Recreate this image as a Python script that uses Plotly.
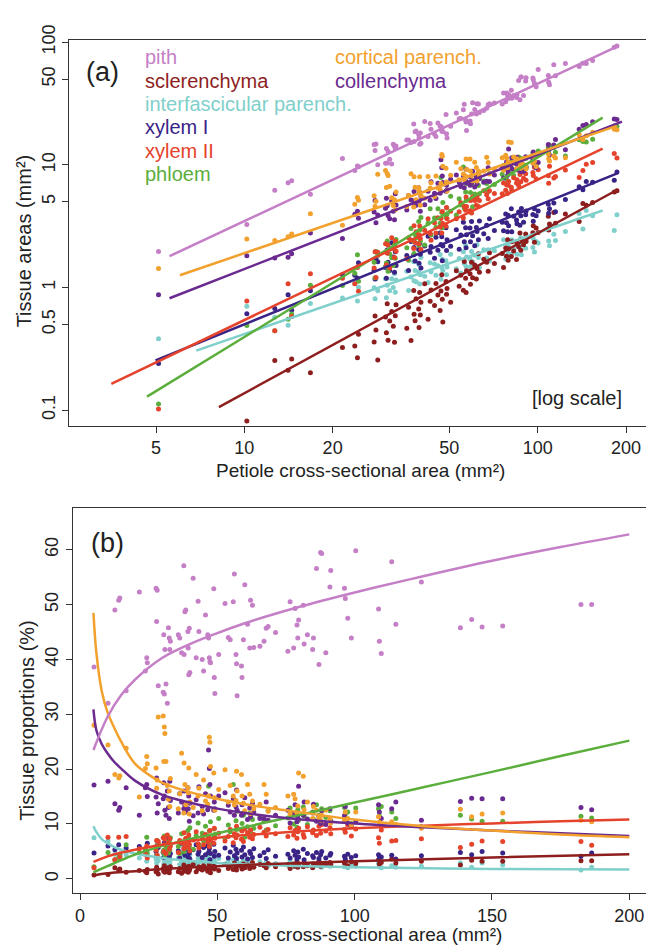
import plotly.graph_objects as go

W, H = 646, 949

# ---------------- data ----------------
PETIOLE_AREA = [
    5.1, 10.2, 12.7, 14.1, 14.5, 16.8, 21.6, 23.8, 24.3, 24.5,
    27.7, 27.9, 28.1, 28.5, 30.3, 30.5, 30.7, 30.9, 31.3, 31.8,
    32.2, 32.5, 32.7, 32.9, 35.8, 36.3, 37.0, 37.8, 37.9, 38.2,
    38.5, 39.3, 39.4, 39.6, 39.8, 40.0, 41.2, 42.3, 43.0, 43.3,
    44.5, 45.0, 45.7, 46.5, 46.8, 47.1, 47.3, 47.5, 48.7, 48.9,
    49.1, 50.5, 52.8, 54.0, 54.7, 55.8, 56.2, 56.8, 57.0, 57.2,
    58.8, 59.0, 59.5, 60.0, 61.0, 61.8, 62.1, 62.8, 63.3, 65.5,
    67.0, 67.8, 68.5, 71.2, 75.7, 76.5, 77.8, 78.3, 79.0, 79.3,
    79.6, 81.3, 81.6, 82.8, 84.7, 85.0, 86.1, 87.0, 87.6, 88.0,
    89.5, 91.0, 91.3, 96.3, 96.6, 97.5, 98.8, 100.4, 108.7, 109.0,
    109.7, 113.5, 115.0, 124.3, 138.5, 142.6, 146.4, 153.9, 182.4, 186.3]

# tissue proportions (%) per petiole
PROP_PITH = [
    38.6, 32.0, 49.0, 50.8, 51.2, 34.3, 52.3, 37.9, 40.3, 39.4,
    53.0, 46.9, 52.6, 35.2, 34.0, 44.5, 33.7, 41.8, 35.5, 32.0,
    45.8, 43.9, 41.8, 43.3, 44.5, 43.9, 41.2, 57.1, 40.9, 48.7,
    49.0, 45.1, 42.1, 37.2, 45.7, 37.6, 54.8, 40.3, 50.6, 45.1,
    40.0, 37.9, 48.1, 44.5, 43.9, 40.3, 39.6, 39.4, 52.9, 36.7,
    33.8, 40.9, 50.2, 44.0, 43.6, 50.5, 55.6, 40.9, 39.2, 33.4,
    38.8, 36.7, 43.6, 53.6, 46.4, 42.1, 50.8, 49.9, 42.2, 42.4,
    43.3, 45.7, 46.0, 44.9, 41.5, 50.5, 42.1, 49.3, 46.3, 43.9,
    47.2, 49.9, 42.8, 44.5, 41.8, 43.9, 56.6, 39.1, 59.5, 59.3,
    41.2, 53.2, 56.2, 53.0, 51.1, 47.5, 43.9, 59.8, 49.2, 43.3,
    41.1, 57.8, 46.4, 54.1, 45.8, 47.3, 45.9, 46.1, 50.0, 50.0]
PROP_SCLER = [
    0.7, 0.8, 2.0, 1.5, 1.8, 1.2, 1.5, 1.4, 1.1, 1.7,
    1.3, 2.1, 1.6, 0.9, 1.9, 1.4, 2.4, 1.2, 1.7, 2.0,
    1.5, 1.1, 1.8, 2.2, 1.3, 1.9, 1.0, 2.5, 1.6, 1.4,
    2.1, 1.7, 1.2, 2.3, 1.5, 1.9, 2.6, 1.3, 1.8, 2.2,
    1.6, 2.4, 1.9, 1.4, 2.0, 2.7, 1.7, 1.1, 2.3, 1.8,
    2.0, 1.5, 2.6, 1.9, 2.3, 1.7, 2.9, 2.1, 1.6, 2.4,
    2.2, 1.8, 2.7, 2.0, 2.5, 1.9, 2.3, 3.0, 2.1, 2.6,
    2.4, 2.0, 2.8, 2.2, 2.5, 1.9, 2.7, 2.3, 3.1, 2.1,
    2.6, 2.2, 2.9, 2.4, 2.0, 2.7, 2.5, 3.2, 2.3, 2.8,
    2.5, 3.0, 2.6, 2.9, 3.3, 2.4, 3.1, 2.8, 3.5, 2.7,
    3.0, 3.6, 2.9, 3.2, 2.5, 3.4, 3.2, 3.2, 3.3, 3.3]
PROP_INTERF = [
    7.5, 6.9, 4.5, 3.5, 4.0, 4.4, 3.8, 4.5, 3.2, 4.1,
    3.6, 2.9, 4.2, 3.3, 3.9, 2.7, 3.4, 4.6, 3.0, 3.7,
    3.1, 4.0, 2.8, 3.5, 3.8, 2.6, 3.3, 4.3, 3.0, 3.6,
    2.9, 3.4, 3.9, 2.7, 3.2, 4.4, 3.0, 2.6, 3.7, 3.1,
    3.5, 2.8, 3.3, 4.0, 2.5, 3.1, 3.6, 2.9, 3.4, 2.6,
    3.0, 3.7, 2.7, 3.2, 2.4, 3.5, 2.8, 3.9, 2.6, 3.1,
    2.9, 2.5, 3.3, 2.7, 3.0, 2.4, 3.6, 2.8, 2.3, 3.1,
    2.6, 3.0, 2.4, 2.8, 2.5, 3.2, 2.2, 2.7, 2.9, 2.4,
    2.7, 2.3, 3.0, 2.5, 2.8, 2.2, 2.6, 2.4, 2.9, 2.1,
    2.5, 2.3, 2.7, 2.2, 2.6, 2.0, 2.4, 2.3, 2.8, 2.2,
    2.0, 2.4, 2.1, 2.3, 2.9, 2.1, 2.9, 2.5, 1.6, 2.1]
PROP_XYLEM1 = [
    4.7, 6.0, 5.3, 6.2, 4.5, 5.6, 5.9, 5.3, 4.9, 6.5,
    5.0, 4.2, 6.1, 5.7, 4.8, 3.9, 6.6, 5.2, 4.4, 7.3,
    5.5, 4.1, 6.0, 4.6, 5.1, 3.8, 6.4, 4.9, 5.6, 4.3,
    7.0, 5.2, 4.0, 5.8, 4.7, 3.6, 5.3, 6.2, 4.5, 5.0,
    3.9, 5.7, 4.4, 6.0, 4.8, 5.5, 3.5, 4.6, 6.3, 4.1,
    5.0, 4.3, 5.6, 3.8, 4.9, 6.1, 4.2, 5.4, 3.7, 4.7,
    5.2, 4.0, 5.8, 4.4, 3.6, 5.0, 4.6, 3.9, 5.5, 4.2,
    4.8, 3.7, 5.3, 4.1, 4.5, 3.8, 5.1, 4.3, 3.6, 4.9,
    4.0, 5.4, 3.5, 4.6, 4.2, 3.9, 4.8, 3.7, 4.4, 5.0,
    3.8, 4.3, 4.6, 4.1, 3.6, 4.5, 3.9, 4.2, 4.4, 3.7,
    4.0, 4.3, 3.6, 4.2, 4.8, 4.4, 5.0, 4.7, 4.1, 4.7]
PROP_XYLEM2 = [
    2.0, 7.6, 3.5, 7.6, 4.0, 7.7, 5.5, 4.5, 6.0, 3.8,
    5.2, 7.0, 4.3, 6.8, 7.5, 5.0, 6.2, 7.2, 4.6, 8.0,
    6.5, 5.4, 7.3, 6.0, 4.8, 7.0, 6.6, 5.5, 8.4, 6.1,
    7.4, 5.8, 6.8, 8.0, 6.3, 5.1, 7.1, 8.6, 6.4, 5.6,
    7.6, 6.2, 8.1, 6.7, 7.8, 5.9, 8.8, 7.0, 6.5, 9.2,
    7.4, 8.3, 6.9, 7.7, 9.0, 6.6, 8.2, 7.5, 9.6, 8.0,
    7.2, 8.7, 6.8, 9.1, 8.4, 7.6, 8.9, 7.3, 8.1, 9.4,
    8.5, 7.8, 9.0, 8.2, 7.7, 9.3, 8.0, 8.8, 7.4, 8.6,
    9.2, 8.1, 7.6, 9.5, 8.4, 8.9, 7.9, 9.6, 8.3, 9.9,
    8.7, 9.3, 8.2, 9.0, 8.5, 9.8, 7.8, 9.1, 7.5, 6.5,
    8.9, 6.9, 7.0, 7.3, 5.7, 6.3, 6.9, 6.8, 6.8, 6.1]
PROP_PHLOEM = [
    2.2, 4.8, 3.5, 3.9, 4.2, 6.2, 4.8, 5.5, 7.6, 4.6,
    5.8, 4.3, 7.0, 6.4, 4.9, 5.2, 7.8, 4.4, 6.0, 5.5,
    4.7, 6.8, 5.3, 7.5, 5.9, 4.6, 8.2, 6.3, 5.0, 7.1,
    6.6, 8.8, 5.6, 7.4, 6.0, 9.3, 5.4, 7.9, 10.2, 6.2,
    8.3, 6.9, 9.6, 7.2, 16.9, 8.7, 6.5, 10.4, 7.7, 9.1,
    8.1, 11.0, 7.4, 9.8, 8.6, 17.2, 7.9, 10.6, 9.0, 12.3,
    8.8, 10.1, 11.6, 7.6, 9.5, 12.0, 8.4, 10.8, 9.2, 11.3,
    10.5, 8.9, 12.4, 9.7, 11.1, 12.9, 10.0, 11.8, 9.4, 12.6,
    10.7, 13.1, 11.4, 9.9, 12.2, 10.9, 13.5, 11.6, 10.3, 12.8,
    11.2, 12.4, 10.6, 13.0, 11.8, 12.2, 10.1, 12.9, 12.8, 11.5,
    13.2, 12.2, 11.0, 9.5, 11.6, 10.9, 10.5, 10.5, 11.4, 11.1]
PROP_CORTICAL = [
    28.0, 24.4, 19.0, 18.4, 18.8, 23.8, 14.9, 20.1, 22.3, 21.0,
    20.2, 16.5, 18.0, 29.5, 29.7, 21.4, 27.7, 26.5, 21.4, 17.0,
    14.5, 16.0, 13.2, 18.3, 12.8, 15.5, 22.9, 12.0, 21.1, 17.2,
    13.5, 16.6, 15.7, 20.2, 11.8, 14.0, 13.0, 19.0, 15.1, 16.5,
    12.4, 18.0, 14.2, 13.6, 15.1, 25.8, 24.9, 20.5, 19.3, 14.8,
    12.5, 16.3, 19.9, 14.0, 17.0, 15.1, 13.5, 14.3, 19.6, 16.0,
    19.0, 15.1, 13.8, 12.4, 17.2, 15.4, 11.9, 14.2, 12.8, 13.6,
    17.2, 15.4, 12.3, 13.0, 15.1, 11.8, 15.4, 14.6, 12.0, 13.3,
    19.3, 18.7, 12.6, 14.0, 11.0, 13.2, 12.5, 11.2, 10.7, 11.6,
    12.5, 10.9, 10.2, 10.7, 12.2, 11.0, 9.8, 12.2, 11.3, 10.3,
    9.8, 10.4, 9.9, 9.2, 12.7, 11.3, 11.8, 12.0, 10.7, 10.4]
PROP_COLLEN = [
    17.1, 17.8, 13.7, 12.5, 13.0, 16.6, 11.6, 16.6, 17.2, 15.0,
    14.9, 18.4, 12.0, 13.7, 14.6, 17.5, 15.1, 12.5, 11.6, 16.0,
    13.0, 11.0, 17.8, 14.3, 12.0, 15.5, 14.0, 12.8, 16.0, 13.4,
    12.2, 16.6, 12.8, 15.1, 10.5, 13.8, 11.5, 14.4, 12.0, 16.8,
    13.2, 11.8, 15.5, 12.6, 23.5, 20.1, 17.2, 15.1, 12.5, 14.0,
    12.8, 15.1, 15.7, 13.4, 12.2, 14.6, 11.6, 13.1, 16.2, 12.5,
    11.6, 13.5, 12.0, 14.8, 10.8, 12.9, 11.3, 13.8, 12.2, 11.0,
    11.0, 14.0, 10.7, 11.6, 12.5, 10.2, 11.8, 13.5, 10.4, 11.2,
    16.9, 11.6, 14.0, 10.9, 12.0, 13.6, 10.5, 11.4, 10.1, 12.4,
    9.9, 12.8, 10.4, 11.5, 13.2, 10.2, 9.6, 10.4, 13.5, 12.2,
    11.0, 12.8, 14.0, 10.7, 14.1, 14.7, 14.6, 14.6, 13.0, 12.6]

# panel (a) fitted lines: end points (petiole area, tissue area)
FIT_A_X = {
    "pith": [5.56, 187.6], "scler": [8.19, 187.6], "interf": [6.86, 166.5],
    "xylem1": [4.98, 187.6], "xylem2": [3.52, 166.5], "phloem": [4.66, 166.5],
    "cortical": [6.03, 186.0], "collen": [5.56, 193.8]}
FIT_A_Y = {
    "pith": [1.80, 92.9], "scler": [0.106, 6.3], "interf": [0.306, 4.25],
    "xylem1": [0.255, 8.56], "xylem2": [0.164, 13.6], "phloem": [0.129, 24.3],
    "cortical": [1.26, 20.8], "collen": [0.818, 22.5]}

# panel (b) fitted curves: points
FIT_B = {
    "pith": ([4.9, 10, 15, 20, 30, 40, 50, 60, 80, 100, 120, 150, 175, 200],
             [23.5, 29.5, 33.5, 36.3, 40.3, 42.8, 44.8, 46.6, 49.6, 52.2, 54.6, 58.0, 60.5, 62.8]),
    "cortical": ([4.9, 6, 8, 10, 12.5, 15, 20, 25, 30, 40, 50, 60, 75, 100, 125, 150, 175, 200],
                 [48.5, 41.0, 34.0, 30.4, 27.5, 25.0, 21.0, 19.0, 17.5, 15.8, 14.6, 13.6, 12.5, 10.8, 9.6, 8.8, 8.1, 7.6]),
    "collen": ([4.9, 6, 8, 10, 12.5, 15, 20, 30, 40, 50, 75, 100, 125, 150, 175, 200],
               [30.9, 27.0, 24.5, 22.9, 21.3, 20.1, 17.9, 15.3, 13.9, 12.8, 11.1, 10.1, 9.4, 8.8, 8.3, 7.8]),
    "xylem2": ([4.9, 10, 15, 20, 30, 40, 50, 75, 100, 125, 150, 175, 200],
               [3.1, 4.1, 4.8, 5.3, 6.2, 6.9, 7.5, 8.5, 9.2, 9.7, 10.1, 10.5, 10.8]),
    "phloem": ([4.9, 10, 15, 20, 30, 40, 50, 75, 100, 125, 150, 175, 200],
               [1.2, 2.3, 3.4, 4.4, 6.0, 7.2, 8.3, 11.1, 13.9, 16.7, 19.5, 22.4, 25.2]),
    "scler": ([4.9, 10, 20, 30, 50, 75, 100, 150, 200],
              [0.6, 1.0, 1.4, 1.8, 2.3, 2.8, 3.2, 3.9, 4.5]),
    "interf": ([4.9, 6, 8, 10, 12.5, 15, 20, 30, 50, 75, 100, 150, 200],
               [9.6, 8.5, 7.2, 6.5, 5.8, 5.3, 4.6, 3.8, 2.9, 2.4, 2.1, 1.8, 1.7]),
}

LABELS = {"pith": "pith", "scler": "sclerenchyma", "interf": "interfascicular parench.",
          "xylem1": "xylem I", "xylem2": "xylem II", "phloem": "phloem",
          "cortical": "cortical parench.", "collen": "collenchyma"}
PROPS = {"pith": PROP_PITH, "scler": PROP_SCLER, "interf": PROP_INTERF, "xylem1": PROP_XYLEM1,
         "xylem2": PROP_XYLEM2, "phloem": PROP_PHLOEM, "cortical": PROP_CORTICAL, "collen": PROP_COLLEN}

COLORS = {"pith": "#C47FC6", "scler": "#8E1E1E", "interf": "#7FCFCB", "xylem1": "#3A2386",
          "xylem2": "#E5432B", "phloem": "#5BAE3C", "cortical": "#F2A12E", "collen": "#6A2A90"}

FONT = "Arial, Liberation Sans, sans-serif"

fig = go.Figure()

draw_order = ["interf", "scler", "xylem1", "phloem", "xylem2", "collen", "cortical", "pith"]
for t in draw_order:
    c = COLORS[t]
    areas = [p * a / 100.0 for p, a in zip(PROPS[t], PETIOLE_AREA)]
    fig.add_trace(go.Scatter(x=PETIOLE_AREA, y=areas, mode="markers",
                             marker=dict(color=c, size=5), xaxis="x", yaxis="y",
                             showlegend=False, hoverinfo="skip"))
    fig.add_trace(go.Scatter(x=PETIOLE_AREA, y=PROPS[t], mode="markers",
                             marker=dict(color=c, size=5), xaxis="x2", yaxis="y2",
                             showlegend=False, hoverinfo="skip"))
for t in draw_order:
    c = COLORS[t]
    fig.add_trace(go.Scatter(x=FIT_A_X[t], y=FIT_A_Y[t], mode="lines",
                             line=dict(color=c, width=2.5), xaxis="x", yaxis="y",
                             showlegend=False, hoverinfo="skip"))
for t in ["interf", "scler", "phloem", "xylem2", "collen", "cortical", "pith"]:
    c = COLORS[t]
    bx, by = FIT_B[t]
    fig.add_trace(go.Scatter(x=bx, y=by, mode="lines",
                             line=dict(color=c, width=2.5, shape="spline"),
                             xaxis="x2", yaxis="y2", showlegend=False, hoverinfo="skip"))

def px(x):
    return x / W

def py(y):
    return 1 - y / H

axis_common = dict(showgrid=False, zeroline=False, showline=True, linecolor="#333333",
                   linewidth=1.3, ticks="outside", ticklen=6, tickwidth=1.3,
                   tickcolor="#333333", mirror=False, ticklabeloverflow="allow",
                   tickfont=dict(family=FONT, size=18, color="#222222"))

fig.update_layout(
    width=W, height=H, margin=dict(l=0, r=0, t=0, b=0),
    paper_bgcolor="white", plot_bgcolor="white", showlegend=False,
    xaxis=dict(axis_common, type="log", range=[0.4024, 2.3692], domain=[px(69), 1],
               anchor="y", tickvals=[5, 10, 20, 50, 100, 200],
               ticktext=["5", "10", "20", "50", "100", "200"], mirror=True),
    yaxis=dict(axis_common, type="log", range=[-1.1268, 2.0217],
               domain=[py(417.3), py(25)], anchor="x",
               tickvals=[0.1, 0.5, 1, 5, 10, 50, 100],
               ticktext=["0.1", "0.5", "1", "5", "10", "50", "100"], tickangle=-90),
    xaxis2=dict(axis_common, range=[-2.658, 206.08], domain=[px(72.7), 1], anchor="y2",
                tickvals=[0, 50, 100, 150, 200], mirror=True),
    yaxis2=dict(axis_common, range=[-2.62, 67.65], domain=[py(892.3), py(500.7)],
                anchor="x2", tickvals=[0, 10, 20, 30, 40, 50, 60], tickangle=-90),
)

ann = []
def add_text(text, x, y, size, color="#222222", xanchor="center", angle=0):
    ann.append(dict(text=text, x=px(x), y=py(y), xref="paper", yref="paper",
                    showarrow=False, xanchor=xanchor, yanchor="middle", textangle=angle,
                    font=dict(family=FONT, size=size, color=color)))

add_text("(a)", 102, 58, 27)
add_text("(b)", 108, 536, 27)
add_text("[log scale]", 577, 389, 20)
add_text("Petiole cross-sectional area (mm²)", 360, 463, 19)
add_text("Petiole cross-sectional area (mm²)", 357, 934, 19)
add_text("Tissue areas (mm²)", 24, 230, 20, angle=-90)
add_text("Tissue proportions (%)", 27, 717, 20, angle=-90)

legend_left = [("pith", 43), ("scler", 67), ("interf", 90), ("xylem1", 114),
               ("xylem2", 138), ("phloem", 162)]
for t, y in legend_left:
    add_text(LABELS[t], 142.7, y, 20, color=COLORS[t], xanchor="left")
add_text(LABELS["cortical"], 333.3, 43, 20, color=COLORS["cortical"], xanchor="left")
add_text(LABELS["collen"], 333.3, 67, 20, color=COLORS["collen"], xanchor="left")

fig.update_layout(annotations=ann)
fig.write_html("out.html", config={"displayModeBar": False},
               post_script="document.body.style.margin='0';document.body.style.overflow='hidden';")
